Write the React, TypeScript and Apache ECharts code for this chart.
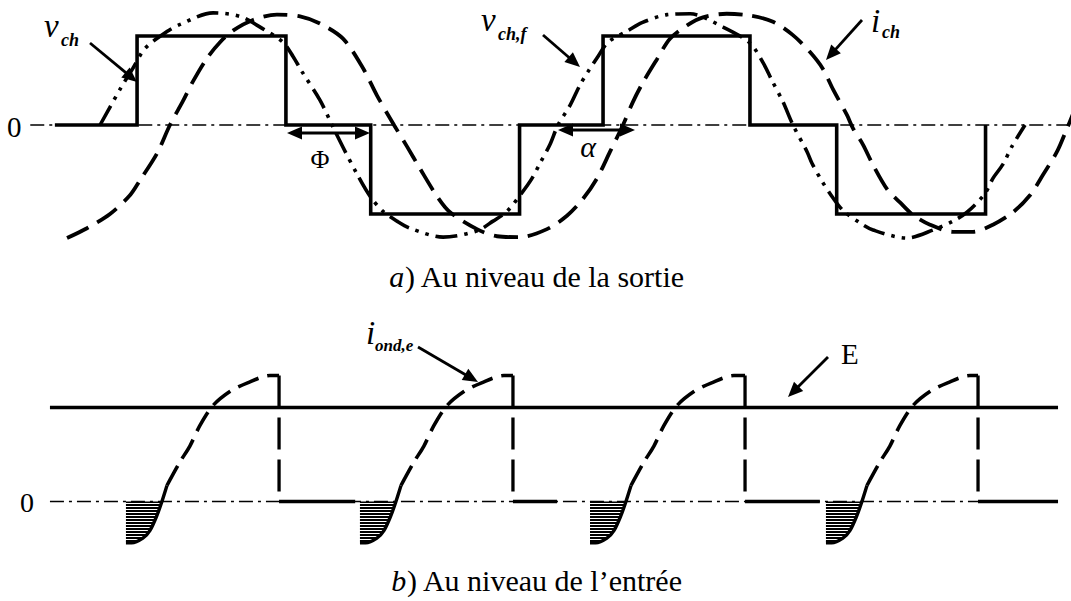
import React, { useEffect, useRef } from "react";
import * as echarts from "echarts";

// ---------- data (x in electrical degrees, y in normalised units) ----------
// Panel a) output
const AXIS_A_X = [-50, 751];
const SQ_X = [-31, 32.5, 32.5, 147.5, 147.5, 213, 213, 328, 328, 392.5, 392.5, 506, 506, 573, 573, 688, 688];
const SQ_V = [0, 0, 1, 1, 0, 0, -1, -1, 0, 0, 1, 1, 0, 0, -1, -1, 0];

const VF_X = [3.9, 19.3, 29.4, 38.6, 55.6, 65.7, 91.2, 112.0, 129.8, 145.2, 153.0, 159.9, 173.8, 183.1, 191.6, 202.4, 212.5, 222.5, 233.3, 243.4, 268.9, 295.1, 307.5, 318.3, 329.9, 337.6, 343.8, 351.5, 357.7, 367.0, 374.7, 380.9, 388.6, 396.3, 411.8, 422.6, 441.9, 459.7, 485.2, 506.0, 516.1, 523.0, 531.5, 539.2, 550.1, 553.9, 561.6, 570.2, 577.9, 591.0, 601.1, 627.3, 647.4, 662.8, 673.7, 687.6, 693.7, 701.5, 708.4, 718.5];
const VF_V = [0, 0.40, 0.64, 0.86, 1.05, 1.13, 1.26, 1.22, 1.08, 0.93, 0.77, 0.60, 0.28, 0, -0.25, -0.55, -0.80, -0.97, -1.08, -1.16, -1.26, -1.19, -1.08, -0.97, -0.76, -0.60, -0.43, -0.22, 0, 0.22, 0.45, 0.60, 0.77, 0.93, 1.06, 1.15, 1.24, 1.25, 1.10, 0.92, 0.70, 0.50, 0.26, 0, -0.30, -0.43, -0.63, -0.82, -0.96, -1.10, -1.18, -1.27, -1.18, -1.08, -0.98, -0.77, -0.60, -0.44, -0.24, 0];

const IC_X = [-21.6, -6.2, 11.6, 27.0, 34.8, 47.9, 57.9, 68.0, 75.7, 86.5, 96.6, 106.6, 122.1, 140.6, 158.4, 173.8, 191.6, 207.0, 217.9, 231.0, 241.0, 251.1, 264.2, 274.3, 295.1, 310.6, 328.3, 349.2, 364.6, 377.0, 387.8, 397.9, 407.9, 415.6, 423.4, 434.2, 444.2, 457.4, 469.7, 488.0, 506.0, 523.8, 539.2, 552.4, 562.4, 570.2, 581.0, 585.7, 593.3, 601.1, 611.9, 621.9, 631.9, 645.1, 662.8, 678.3, 693.7, 709.2, 722.3, 732.4, 743.2, 750.9, 756.0];
const IC_V = [-1.27, -1.16, -1.0, -0.79, -0.62, -0.32, 0, 0.27, 0.49, 0.75, 0.93, 1.06, 1.18, 1.24, 1.22, 1.14, 0.97, 0.64, 0.33, 0, -0.24, -0.49, -0.80, -0.98, -1.17, -1.25, -1.26, -1.17, -1.02, -0.83, -0.60, -0.30, 0, 0.26, 0.48, 0.74, 0.97, 1.12, 1.21, 1.25, 1.23, 1.16, 1.01, 0.82, 0.63, 0.40, 0.11, -0.04, -0.22, -0.45, -0.72, -0.87, -1.01, -1.12, -1.20, -1.20, -1.12, -0.98, -0.79, -0.56, -0.30, -0.04, 0.14];

// Panel b) input
const AXIS_B_X = [-34.8, 744];
const E_LEVEL = 1;
const PULSE_START = [23.9, 204.7, 382.4, 564.7];
const PULSE_END = [142.2, 322.9, 502.2, 682.2];
const ZERO_END = [201, 357, 560, 744];
const SHAPE_DX = [0, 4.4, 13.1, 18.5, 23.9, 27.8, 31.7, 41.7, 49.4, 57.2, 67.2, 80.3, 93.5, 111.2];
const SHAPE_V = [-0.44, -0.44, -0.39, -0.31, -0.15, 0, 0.17, 0.42, 0.59, 0.81, 1.02, 1.17, 1.26, 1.34];
const PEAK = 1.34;

// ---------- layout ----------
const W = 1071;
const H = 601;
const X_MIN = -73.39;
const X_MAX = 754.02;
const A_ZERO = 125, A_K = 89, A_MIN = -1.4, A_MAX = 1.4;
const B_ZERO = 501.5, B_K = 94, B_MIN = -0.6, B_MAX = 1.5;
const FONT = '"Liberation Serif", "Times New Roman", serif';

const zip = (xs: number[], ys: number[]) => xs.map((x, i) => [x, ys[i]]);

function arrow(x1: number, y1: number, x2: number, y2: number, both = false, w = 2.8) {
  const L = 15, HW = 6.5;
  const dx = x2 - x1, dy = y2 - y1;
  const len = Math.hypot(dx, dy);
  const ux = dx / len, uy = dy / len;
  const px = -uy, py = ux;
  const head = (tx: number, ty: number, dxu: number, dyu: number) => ({
    type: "polygon",
    shape: {
      points: [
        [tx, ty],
        [tx - dxu * L + px * HW, ty - dyu * L + py * HW],
        [tx - dxu * L - px * HW, ty - dyu * L - py * HW],
      ],
    },
    style: { fill: "#000" },
  });
  const children: any[] = [
    {
      type: "line",
      shape: {
        x1: both ? x1 + ux * (L - 2) : x1,
        y1: both ? y1 + uy * (L - 2) : y1,
        x2: x2 - ux * (L - 2),
        y2: y2 - uy * (L - 2),
      },
      style: { stroke: "#000", lineWidth: w },
    },
    head(x2, y2, ux, uy),
  ];
  if (both) children.push(head(x1, y1, -ux, -uy));
  return { type: "group", children };
}

function txt(x: number, y: number, text: string, size: number, italic = false, align = "left", bold = false) {
  return {
    type: "text",
    x,
    y,
    style: {
      text,
      fontSize: size,
      fontFamily: FONT,
      fontStyle: italic ? "italic" : "normal",
      fontWeight: bold ? "bold" : "normal",
      fill: "#000",
      align,
      verticalAlign: "middle",
    },
  };
}

function caption(y: number, letter: string, rest: string) {
  return {
    type: "text",
    x: 537,
    y,
    style: {
      text: "{i|" + letter + "}" + rest,
      rich: { i: { fontStyle: "italic", fontSize: 30, fontFamily: FONT, fill: "#000" } },
      fontSize: 30,
      fontFamily: FONT,
      fill: "#000",
      align: "center",
      verticalAlign: "middle",
    },
  };
}

export default function App() {
  const ref = useRef<HTMLDivElement>(null);
  useEffect(() => {
    document.body.style.margin = "0";
    if (!ref.current) return;
    const chart = echarts.init(ref.current, null, { renderer: "svg" });

    const c = document.createElement("canvas");
    c.width = 6;
    c.height = 3;
    const ctx = c.getContext("2d");
    if (ctx) {
      ctx.fillStyle = "#fff";
      ctx.fillRect(0, 0, 6, 3);
      ctx.fillStyle = "#000";
      ctx.fillRect(0, 0, 6, 2);
    }
    const hatch: any = { image: c, repeat: "repeat", imageWidth: 6, imageHeight: 3 };

    const base = { type: "line", symbol: "none", silent: true, animation: false, z: 2 };
    const A = { xAxisIndex: 0, yAxisIndex: 0 };
    const B = { xAxisIndex: 1, yAxisIndex: 1 };

    const series: any[] = [
      {
        ...base, ...A,
        data: AXIS_A_X.map((x) => [x, 0]),
        lineStyle: { color: "#000", width: 1.7, type: [14, 5, 3, 5] },
      },
      {
        ...base, ...A,
        data: zip(SQ_X, SQ_V),
        lineStyle: { color: "#000", width: 3.6, type: "solid", join: "miter" },
      },
      {
        ...base, ...A,
        data: zip(VF_X, VF_V),
        smooth: 0.3,
        lineStyle: { color: "#000", width: 3.6, type: [22, 7, 3.5, 7, 3.5, 7] },
      },
      {
        ...base, ...A,
        data: zip(IC_X, IC_V),
        smooth: 0.3,
        lineStyle: { color: "#000", width: 3.8, type: [24, 10] },
      },
      {
        ...base, ...B,
        data: AXIS_B_X.map((x) => [x, 0]),
        lineStyle: { color: "#000", width: 1.7, type: [14, 5, 3, 5] },
      },
      {
        ...base, ...B,
        data: AXIS_B_X.map((x) => [x, E_LEVEL]),
        lineStyle: { color: "#000", width: 3.3, type: "solid" },
      },
    ];

    PULSE_START.forEach((x0, k) => {
      const pts = SHAPE_DX.map((dx, i) => [x0 + dx, SHAPE_V[i]]);
      const zeroIdx = SHAPE_V.indexOf(0);
      series.push({
        ...base, ...B,
        data: [[x0, 0], ...pts.slice(0, zeroIdx + 1)],
        lineStyle: { width: 0, opacity: 0 },
        areaStyle: { color: hatch, opacity: 1 },
        z: 1,
      });
      series.push({
        ...base, ...B,
        data: pts.slice(0, zeroIdx + 2),
        smooth: 0.3,
        lineStyle: { color: "#000", width: 3.4, type: "solid" },
      });
      series.push({
        ...base, ...B,
        data: [...pts.slice(zeroIdx + 1), [PULSE_END[k], PEAK]],
        smooth: 0.3,
        lineStyle: { color: "#000", width: 3.6, type: [22, 9] },
      });
      series.push({
        ...base, ...B,
        data: [[PULSE_END[k], PEAK], [PULSE_END[k], 0]],
        lineStyle: { color: "#000", width: 3.3, type: [32, 10] },
      });
      series.push({
        ...base, ...B,
        data: [[PULSE_END[k], 0], [ZERO_END[k], 0]],
        lineStyle: { color: "#000", width: 3.3, type: "solid" },
      });
    });

    const graphic: any[] = [
      // panel a labels
      txt(7, 127, "0", 29),
      txt(44, 26, "v", 33, true),
      txt(61, 40, "ch", 18, true, "left", true),
      arrow(90, 43, 137, 82),
      txt(481, 20, "v", 33, true),
      txt(498, 34, "ch,f", 18, true, "left", true),
      arrow(543, 35, 580, 67),
      txt(871, 21, "i", 33, true),
      txt(882, 32, "ch", 18, true, "left", true),
      arrow(862, 20, 826, 60),
      arrow(287, 133, 370, 133, true, 3.2),
      txt(320, 159, "Φ", 26, false, "center"),
      arrow(558, 130, 635, 130, true, 3.2),
      txt(588, 146, "α", 30, true, "center"),
      caption(276, "a", ") Au niveau de la sortie"),
      // panel b labels
      txt(20, 502, "0", 28),
      txt(366, 333, "i", 33, true),
      txt(375, 345, "ond,e", 17, true, "left", true),
      arrow(418, 347, 478, 382),
      txt(841, 354, "E", 29),
      arrow(828, 357, 788, 397),
      caption(580, "b", ") Au niveau de l\u2019entrée"),
    ];

    chart.setOption({
      animation: false,
      backgroundColor: "#fff",
      grid: [
        { left: 0, right: 0, top: A_ZERO - A_MAX * A_K, height: (A_MAX - A_MIN) * A_K },
        { left: 0, right: 0, top: B_ZERO - B_MAX * B_K, height: (B_MAX - B_MIN) * B_K },
      ],
      xAxis: [
        { type: "value", gridIndex: 0, min: X_MIN, max: X_MAX, show: false },
        { type: "value", gridIndex: 1, min: X_MIN, max: X_MAX, show: false },
      ],
      yAxis: [
        { type: "value", gridIndex: 0, min: A_MIN, max: A_MAX, show: false },
        { type: "value", gridIndex: 1, min: B_MIN, max: B_MAX, show: false },
      ],
      series,
      graphic,
    });
    return () => chart.dispose();
  }, []);
  return <div ref={ref} style={{ width: W, height: H }} />;
}
